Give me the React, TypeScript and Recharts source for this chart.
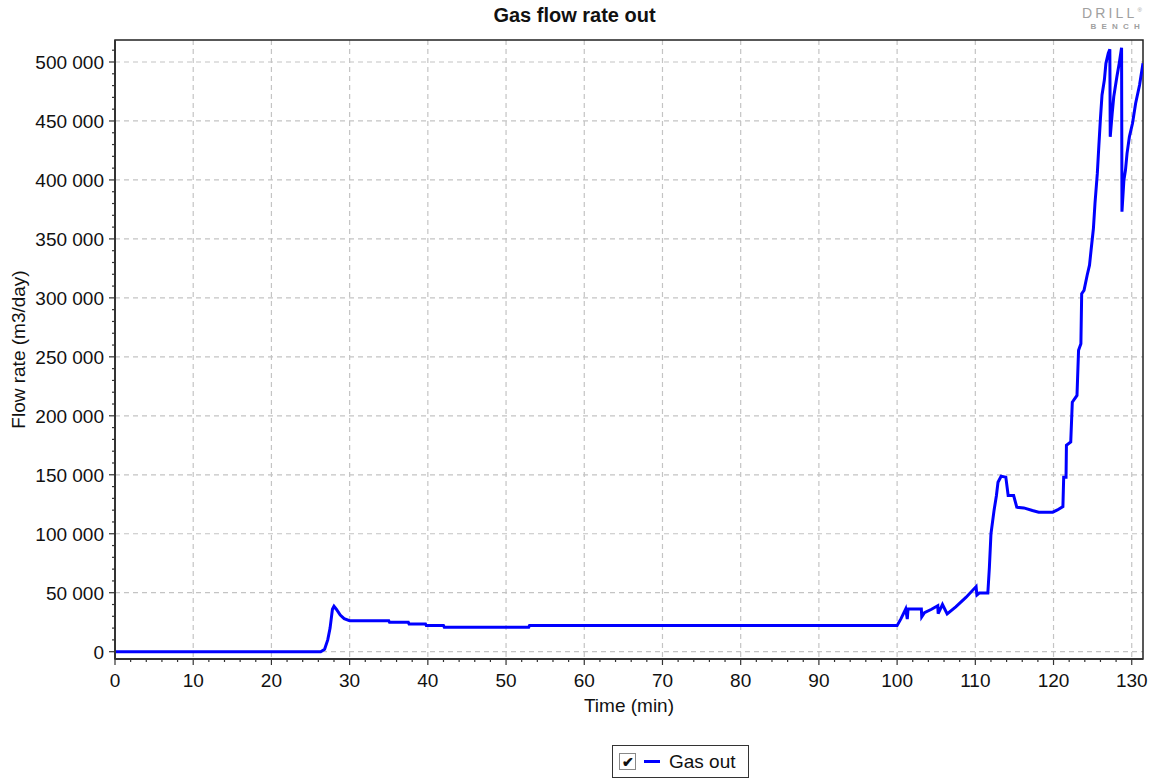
import React from 'react';
import { LineChart, Line, XAxis, YAxis, CartesianGrid, ReferenceArea } from 'recharts';

const FONT = '"Liberation Sans", Arial, sans-serif';

const timeMin = [
  0, 26.3, 26.8, 27.2, 27.5, 27.8, 28.0, 28.3, 28.8, 29.3, 30.0, 35.0, 35.1, 37.5, 37.6,
  39.7, 39.8, 42.0, 42.1, 52.9, 53.0, 100.0, 100.5, 101.1, 101.3, 101.4, 103.1, 103.15,
  103.5, 104.4, 105.2, 105.25, 105.8, 106.4, 107.5, 108.8, 110.1, 110.2, 110.5, 111.6,
  111.8, 112.0, 112.4, 112.7, 112.9, 113.3, 113.9, 114.2, 114.9, 115.3, 116.2, 117.3,
  118.1, 119.9, 120.5, 121.2, 121.3, 121.6, 121.65, 122.2, 122.4, 123.0, 123.2, 123.5,
  123.6, 123.9, 124.3, 124.6, 124.8, 125.1, 125.3, 125.6, 125.8, 126.0, 126.2, 126.5,
  126.7, 127.0, 127.2, 127.25, 127.5, 127.7, 128.1, 128.4, 128.7, 128.75, 129.0, 129.2,
  129.4, 129.7, 130.1, 130.5, 131.0, 131.44,
];

const gasOut = [
  0, 0, 2000, 10000, 20000, 36000, 38500, 36000, 31000, 28000, 26300, 26300, 24900, 24900, 23500,
  23500, 22100, 22100, 20800, 20800, 22100, 22100, 28000, 36200, 27700, 36200, 36200, 29500,
  33000, 36000, 39000, 32300, 40000, 32000, 38000, 46000, 55200, 48000, 49700, 49700,
  71600, 99900, 120000, 132400, 143700, 148800, 148000, 132400, 132400, 122500, 121900, 119700,
  118300, 118300, 120200, 123000, 148000, 148000, 175000, 177800, 211600, 217300, 255500, 261200,
  303600, 306400, 319200, 327700, 340400, 358800, 380000, 405500, 429500, 452200, 472000, 484700,
  498900, 507400, 510800, 436600, 456400, 470500, 487500, 498900, 512000, 373000, 400000, 408400,
  422500, 436600, 448000, 465000, 480500, 499000,
];

const xMajorTicks = [0, 10, 20, 30, 40, 50, 60, 70, 80, 90, 100, 110, 120, 130];
const yMajorTicks = [0, 50000, 100000, 150000, 200000, 250000, 300000, 350000, 400000, 450000, 500000];
const xAllTicks = Array.from({ length: 66 }, (_, i) => i * 2);
const yAllTicks = Array.from({ length: 52 }, (_, i) => i * 10000);

const X_DOMAIN: [number, number] = [0, 131.44];
const Y_DOMAIN: [number, number] = [-6200, 518650];

const data = timeMin.map((t, i) => ({ t, gas: gasOut[i] }));

const fmt = (v: number) => String(v).replace(/\B(?=(\d{3})+(?!\d))/g, ' ');

const XTick = (props: any) => {
  const { x, y, payload } = props;
  const major = payload.value % 10 === 0;
  return (
    <g>
      <line x1={x} x2={x} y1={y} y2={y + (major ? 6 : 3)} stroke="#333" strokeWidth={1.2} />
      {major && (
        <text x={x} y={y + 28} textAnchor="middle" fontSize={19} fill="#111" fontFamily={FONT}>
          {payload.value}
        </text>
      )}
    </g>
  );
};

const YTick = (props: any) => {
  const { x, y, payload } = props;
  const major = payload.value % 50000 === 0;
  return (
    <g>
      <line x1={x - (major ? 6 : 3)} x2={x} y1={y} y2={y} stroke="#333" strokeWidth={1.2} />
      {major && (
        <text x={x - 11} y={y + 7} textAnchor="end" fontSize={19} fill="#111" fontFamily={FONT}>
          {fmt(payload.value)}
        </text>
      )}
    </g>
  );
};

export default function App() {
  return (
    <div style={{ position: 'absolute', left: 0, top: 0, width: 1149, height: 781, background: '#fff', fontFamily: FONT }}>
      <div style={{ position: 'absolute', left: 0, top: 4, width: 1149, textAlign: 'center', fontSize: 20, fontWeight: 'bold', color: '#111' }}>
        Gas flow rate out
      </div>
      <div style={{ position: 'absolute', left: 1076, top: 7, width: 66, textAlign: 'right', color: '#a0a0a0' }}>
        <div style={{ fontSize: 14, letterSpacing: 3.2, height: 13, lineHeight: '13px', whiteSpace: 'nowrap' }}>
          DRILL<span style={{ fontSize: 6, verticalAlign: 'top', lineHeight: '6px', letterSpacing: 0 }}>®</span>
        </div>
        <div style={{ fontSize: 8, letterSpacing: 5.2, fontWeight: 'bold', height: 9, lineHeight: '9px', marginTop: 2, marginRight: -3 }}>
          BENCH
        </div>
      </div>
      <LineChart width={1149} height={781} data={data} margin={{ top: 40, right: 6, bottom: 92, left: 0 }}>
        <CartesianGrid
          stroke="#c4c4c4"
          strokeDasharray="5 4"
          strokeWidth={1.2}
          verticalValues={xMajorTicks}
          horizontalValues={yMajorTicks}
        />
        <XAxis
          dataKey="t"
          type="number"
          domain={X_DOMAIN}
          allowDataOverflow
          ticks={xAllTicks}
          interval={0}
          tick={<XTick />}
          tickLine={false}
          tickSize={0}
          tickMargin={0}
          axisLine={{ stroke: '#333', strokeWidth: 2 }}
          height={30}
          label={{
            content: (p: any) => {
              const vb = p.viewBox;
              return (
                <text x={vb.x + vb.width / 2} y={vb.y + 53} textAnchor="middle" fontSize={19} fill="#111" fontFamily={FONT}>
                  Time (min)
                </text>
              );
            },
          }}
        />
        <YAxis
          type="number"
          domain={Y_DOMAIN}
          allowDataOverflow
          ticks={yAllTicks}
          interval={0}
          tick={<YTick />}
          tickLine={false}
          tickSize={0}
          tickMargin={0}
          axisLine={{ stroke: '#333', strokeWidth: 2 }}
          width={115}
          label={{
            content: (p: any) => {
              const vb = p.viewBox;
              const cx = 18;
              const cy = vb.y + vb.height / 2;
              return (
                <text
                  x={cx}
                  y={cy}
                  transform={`rotate(-90 ${cx} ${cy})`}
                  textAnchor="middle"
                  dominantBaseline="central"
                  fontSize={19}
                  fill="#111"
                  fontFamily={FONT}
                >
                  Flow rate (m3/day)
                </text>
              );
            },
          }}
        />
        <ReferenceArea
          x1={X_DOMAIN[0]}
          x2={X_DOMAIN[1]}
          y1={Y_DOMAIN[0]}
          y2={Y_DOMAIN[1]}
          fill="none"
          fillOpacity={0}
          stroke="#222"
          strokeWidth={1.5}
        />
        <Line
          type="linear"
          dataKey="gas"
          stroke="#0000ff"
          strokeWidth={3}
          dot={false}
          isAnimationActive={false}
        />
      </LineChart>
      <div
        style={{
          position: 'absolute',
          left: 612,
          top: 745,
          width: 137,
          height: 33,
          border: '1px solid #333',
          boxSizing: 'border-box',
          display: 'flex',
          alignItems: 'center',
          fontSize: 19,
          color: '#111',
        }}
      >
        <div
          style={{
            marginLeft: 6,
            width: 15,
            height: 15,
            border: '1.5px solid #888',
            background: '#fff',
            display: 'flex',
            alignItems: 'center',
            justifyContent: 'center',
            fontSize: 14,
            fontWeight: 'bold',
            lineHeight: 1,
          }}
        >
          ✔
        </div>
        <div style={{ marginLeft: 8, width: 16, height: 3, background: '#0000ff' }} />
        <div style={{ marginLeft: 9 }}>Gas out</div>
      </div>
    </div>
  );
}
